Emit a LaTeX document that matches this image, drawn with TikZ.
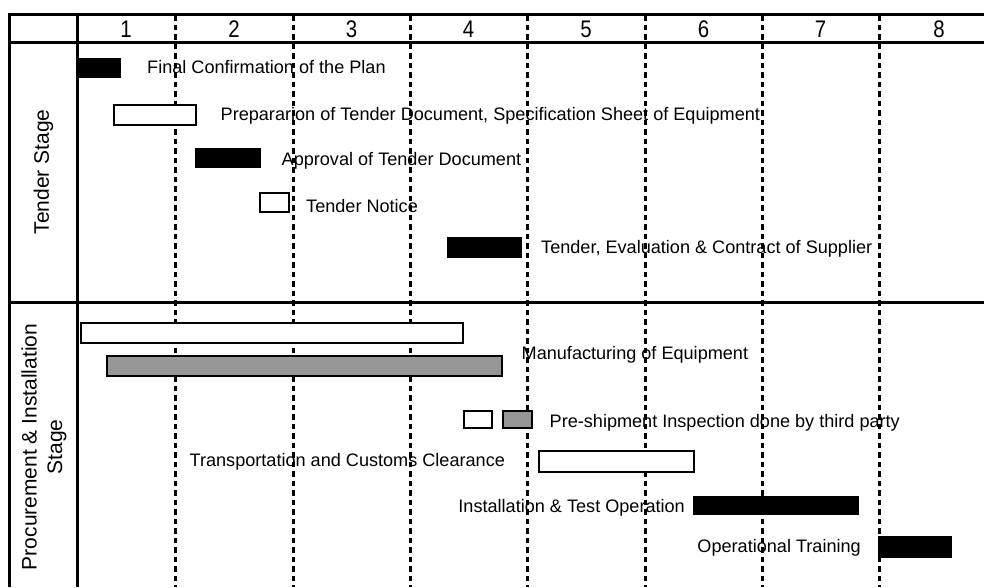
\documentclass[tikz,border=0pt]{standalone}
\usepackage{fontspec}
\setmainfont{Liberation Sans}
\definecolor{barGray}{RGB}{150,150,150}
\begin{document}
\begin{tikzpicture}[x=1pt,y=-1pt,
  frame/.style={line width=3pt},
  divider/.style={line width=3pt, dash pattern=on 5.5pt off 4pt},
  blackbar/.style={fill=black, draw=black, line width=0.8pt},
  whitebar/.style={fill=white, draw=black, line width=1.2pt},
  graybar/.style={fill=barGray, draw=black, line width=1.2pt},
  task/.style={inner sep=0pt, font=\fontsize{18.1}{20}\selectfont},
  colnum/.style={inner sep=0pt, font=\fontsize{24}{26}\selectfont},
  stage/.style={inner sep=0pt, rotate=90, align=center, font=\fontsize{21}{25.5}\selectfont}]
\useasboundingbox (0,0) rectangle (984,587);
\fill[white] (0,0) rectangle (984,587);

% texts (under the dashed lines)
\node[task, anchor=base west] (t1) at (147,73.5) {Final Confirmation of the Plan};
\node[task, anchor=base west] (t2) at (220.5,120) {Prepararion of Tender Document, Specification Sheet of Equipment};
\node[task, anchor=base west] (t3) at (281.5,165.5) {Approval of Tender Document};
\node[task, anchor=base west] (t4) at (306,212) {Tender Notice};
\node[task, anchor=base west] (t5) at (541,253.3) {Tender, Evaluation \& Contract of Supplier};
\node[task, anchor=base west] (t6) at (521.5,359.3) {Manufacturing of Equipment};
\node[task, anchor=base west] (t7) at (549.5,427.3) {Pre-shipment Inspection done by third party};
\node[task, anchor=base west] (t8) at (189.5,466.7) {Transportation and Customs Clearance};
\node[task, anchor=base east] (t9) at (685,512.3) {Installation \& Test Operation};
\node[task, anchor=base east] (t10) at (861,552.7) {Operational Training};

% column numbers
\foreach \n/\x in {1/126,2/234,3/351.5,4/468.5,5/586,6/703.5,7/820.5,8/939}
  \node[colnum] (c\n) at (\x,29) {\scalebox{0.85}[1]{\n}};

% stage labels
\node[stage] (s1) at (43.5,172) {Tender Stage};
\node[stage] (s2) at (44,447) {Procurement \& Installation\\Stage};

% dashed month dividers
\foreach \x in {175,293,410,527,645,762,879}
  \draw[divider] (\x,15) -- (\x,587);

% frame
\draw[frame] (9.5,14) -- (984,14);
\draw[frame] (9.5,42) -- (984,42);
\draw[frame] (9.5,302.5) -- (984,302.5);
\draw[frame] (9.5,12.5) -- (9.5,587);
\draw[frame] (77.5,12.5) -- (77.5,587);

% bars
\draw[blackbar] (77,58) rectangle (120,77);
\draw[whitebar] (114,105) rectangle (196,125);
\draw[blackbar] (195,148) rectangle (260,167);
\draw[whitebar] (260,193) rectangle (289,212);
\draw[blackbar] (447,237) rectangle (521,257);
\draw[whitebar] (81,323) rectangle (463,343);
\draw[graybar] (107,356) rectangle (502,376);
\draw[whitebar] (464,411) rectangle (492,428);
\draw[graybar] (503,411) rectangle (532,428);
\draw[whitebar] (539,451) rectangle (694,472);
\draw[blackbar] (693,496) rectangle (858,514);
\draw[blackbar] (878,536) rectangle (951,557);
\end{tikzpicture}
\end{document}
